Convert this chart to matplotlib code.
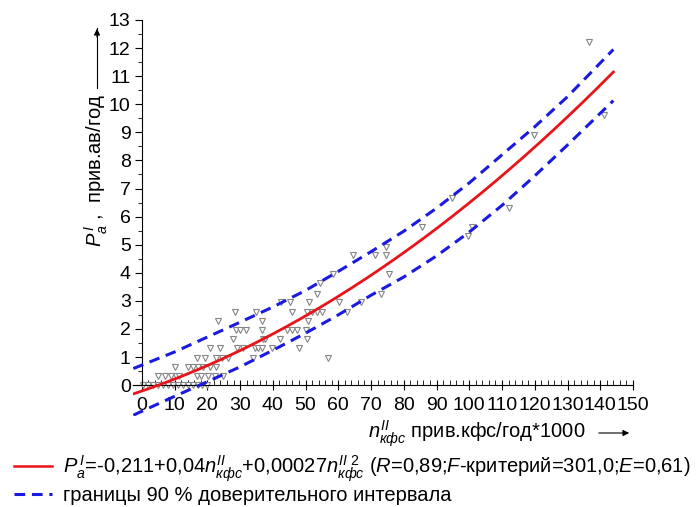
import numpy as np
import matplotlib.pyplot as plt
from matplotlib.lines import Line2D

plt.rcParams['font.family'] = ['Liberation Sans', 'DejaVu Sans']
plt.rcParams['mathtext.fontset'] = 'custom'
plt.rcParams['mathtext.rm'] = 'Liberation Sans'
plt.rcParams['mathtext.it'] = 'Liberation Sans:italic'

# observed points (n'' кфс, P'a)
n_obs = [0.5, 2, 3.5, 5, 6.5, 8, 9.5, 11, 12.5, 14, 15.5, 17, 18.5, 20,
         5, 7, 9, 10.3, 11.5, 16.7, 18.2, 20.2, 22.2, 24.8,
         10.1, 14.2, 15.7, 17.2, 18.7, 20.7, 22.7,
         16.7, 19.3, 22.6, 24.4, 26.4, 34, 57,
         20.7, 23.8, 29.1, 30.9, 34.5, 35.5, 36.6, 39.9, 47.9,
         27.7, 37.1, 37.6, 42.2, 50.5,
         28.7, 29.9, 31.8, 36.8, 44.2, 45.8, 47.4, 50,
         23.3, 36.6, 50.8,
         28.4, 35, 45.8, 50.5, 52.1, 53.6, 54.9, 62.8,
         42.5, 45.3, 51, 60.3, 67,
         53.6, 73.1, 54.3, 58.5, 75.4,
         64.4, 71.3, 74.6, 74.6,
         99.6, 85.6, 100.8, 112.1, 94.7, 119.7, 141.1, 136.5]
p_obs = [0] * 14 + [0.32] * 10 + [0.65] * 7 + [0.98] * 7 + [1.32] * 9 \
    + [1.63] * 5 + [1.96] * 8 + [2.29] * 3 + [2.61] * 8 + [2.97] * 5 \
    + [3.24, 3.24, 3.62, 3.95, 3.95] + [4.63, 4.63, 4.63, 4.93] \
    + [5.31, 5.62, 5.62, 6.29, 6.65, 8.9, 9.62, 12.23]

# regression coefficients from the legend
b0, b1, b2 = -0.211, 0.04, 0.00027

# 90 % interval bounds
n_band = [-2.6, 10, 20, 30, 40, 50, 60, 70, 80, 90, 100, 110, 120, 130, 144]
p_upper = [0.59, 1.18, 1.71, 2.24, 2.78, 3.37, 4.05, 4.75, 5.48, 6.3, 7.2,
           8.2, 9.2, 10.27, 11.95]
p_lower = [-1.07, -0.4, 0.12, 0.65, 1.24, 1.85, 2.5, 3.2, 3.85, 4.6, 5.45,
           6.4, 7.45, 8.55, 10.13]

fig = plt.figure(figsize=(6.98, 5.07), dpi=100)
ax = fig.add_axes([133 / 698, 1 - 416 / 507, 500 / 698, 396 / 507])

red = '#e8141a'
blue = '#1a1ae0'
dash = (0, (3.5, 2.2))

ax.plot(n_obs, p_obs, 'v', ms=5, mfc='white', mec='#858585', mew=0.8,
        ls='none', zorder=2)
n_fit = np.linspace(-2.6, 144, 300)
ax.plot(n_fit, b0 + b1 * n_fit + b2 * n_fit ** 2, color=red, lw=2, zorder=3)
ax.plot(n_band, p_upper, color=blue, lw=2.2, ls=dash, zorder=3)
ax.plot(n_band, p_lower, color=blue, lw=2.2, ls=dash, zorder=3)

ax.set_xlim(-2.7, 150)
ax.set_ylim(-1.1, 13)
for s in ['top', 'right']:
    ax.spines[s].set_visible(False)
ax.spines['left'].set_position(('data', 0))
ax.spines['bottom'].set_position(('data', 0))
ax.spines['left'].set_bounds(0, 13)
ax.set_xticks(np.arange(0, 151, 10))
ax.set_xticks(np.arange(2, 150, 2), minor=True)
ax.set_yticks(np.arange(0, 14, 1))
ax.set_yticks(np.arange(0.5, 13, 1), minor=True)
ax.tick_params(axis='x', which='major', direction='inout', length=7,
               labelsize=14, pad=5)
ax.tick_params(axis='x', which='minor', direction='in', length=3.5)
ax.tick_params(axis='y', which='major', direction='out', length=5,
               labelsize=14, pad=3)
ax.tick_params(axis='y', which='minor', direction='out', length=3)
ax.patch.set_alpha(0)

# axis titles with arrows
fig.text(96 / 698, 1 - 170 / 507, r"$P^{\,I}_{a}$ ,  прив.ав/год",
         rotation=90, fontsize=14.5, ha='center', va='center')
fig.add_artist(plt.Line2D([97 / 698, 97 / 698], [1 - 88 / 507, 1 - 28 / 507],
                          color='black', lw=0.8))
ax.annotate('', xy=(97 / 698, 1 - 26 / 507), xytext=(97 / 698, 1 - 40 / 507),
            xycoords='figure fraction',
            arrowprops=dict(arrowstyle='-|>', color='black', lw=0.8,
                            mutation_scale=9))

fig.text(368 / 698, 1 - 434 / 507, r"$n^{II}_{кфс}$ прив.кфс/год*1000",
         fontsize=14.5, ha='left', va='center')
ax.annotate('', xy=(632 / 698, 1 - 433 / 507), xytext=(596 / 698, 1 - 433 / 507),
            xycoords='figure fraction',
            arrowprops=dict(arrowstyle='-|>', color='black', lw=0.8,
                            mutation_scale=9))

handles = [Line2D([], [], color=red, lw=1.8),
           Line2D([], [], color=blue, lw=2.2, ls=dash)]
labels = [r"$P^{\,I}_{a}$=-0,211+0,04$n^{II}_{кфс}$+0,00027$n^{II\ 2}_{кфс}$"
          r" ($R$=0,89;$F$-критерий=301,0;$E$=0,61)",
          "границы 90 % доверительного интервала"]
fig.legend(handles, labels, loc='lower left', bbox_to_anchor=(0.0, -0.024),
           frameon=False, fontsize=14.5, handlelength=1.9, handletextpad=0.55,
           labelspacing=0.12, borderaxespad=0.3)

fig.savefig('out.png', dpi=100)
